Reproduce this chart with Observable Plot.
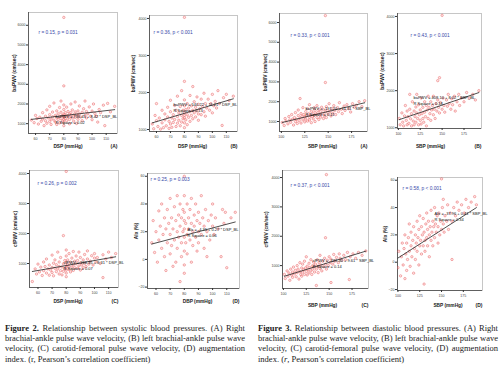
<!DOCTYPE html>
<html><head><meta charset="utf-8">
<script src="https://cdn.jsdelivr.net/npm/d3@7"></script>
<script src="https://cdn.jsdelivr.net/npm/@observablehq/plot@0.6"></script>
<style>
html,body{margin:0;padding:0;background:#fff;}
#root{position:relative;width:500px;height:383px;overflow:hidden;font-family:"Liberation Sans",Arial,sans-serif;}
.panel{position:absolute;}
.cap{position:absolute;font-family:"Liberation Serif","Times New Roman",serif;font-size:8.5px;line-height:10.2px;color:#222;}
.cap div{text-align:justify;text-align-last:justify;white-space:nowrap;}
.cap div.last{text-align-last:left;}
</style></head><body><div id="root"></div><script>
// ---------- data: Figure 2 (DBP on x) ----------
const f2a = [[57,1180],[59,1050],[60,1420],[61,1260],[62,980],[63,1330],[64,1120],[65,1560],[65,1240],[66,900],[67,1380],[67,1150],[68,1700],[68,1020],[69,1290],[70,1460],[70,1110],[70,1880],[71,1230],[71,960],[72,1350],[72,1590],[73,1180],[73,2050],[74,1420],[74,1080],[75,1300],[75,1650],[75,960],[76,1500],[76,1210],[77,1360],[77,1820],[77,1040],[78,1260],[78,1580],[78,2150],[79,1140],[79,1420],[80,6400],[80,2920],[80,1320],[80,1480],[80,1200],[80,1720],[80,1060],[80,1950],[80,1380],[80,900],[81,1560],[81,1270],[82,1420],[82,1150],[82,1840],[83,1330],[83,1620],[84,1210],[84,1480],[84,990],[85,1380],[85,2000],[85,1560],[86,1290],[86,1700],[87,1130],[87,1450],[88,1600],[88,1320],[88,2100],[89,1480],[89,1010],[90,1380],[90,1650],[90,1220],[91,1900],[91,1500],[92,1340],[93,1580],[93,1150],[94,1760],[95,1420],[95,2150],[96,1290],[96,1620],[97,1500],[98,1850],[99,1380],[100,1640],[100,1200],[101,2000],[102,1520],[103,1380],[104,1080],[105,1720],[106,1560],[108,1940],[109,900],[111,2030],[113,1600],[116,1880]];
const f2b = [[57,1150],[58,1020],[59,1380],[60,1240],[60,1700],[61,1080],[62,1310],[63,1010],[64,1520],[64,1180],[65,1050],[66,1420],[66,1260],[67,1100],[68,1600],[68,1340],[69,1030],[69,1220],[70,1480],[70,1150],[70,1790],[71,1310],[71,1060],[72,1400],[72,1190],[73,1650],[73,1270],[74,1080],[74,1520],[75,1350],[75,1170],[75,1900],[76,1250],[76,1450],[77,1100],[77,1620],[78,1380],[78,1200],[78,2050],[79,1520],[79,1290],[80,4030],[80,2300],[80,1450],[80,1320],[80,1180],[80,1640],[80,1050],[80,1800],[80,1380],[81,1540],[81,1260],[82,1700],[82,1400],[82,1130],[83,1580],[83,1330],[84,1480],[84,1920],[84,1220],[85,1640],[85,1380],[86,2160],[86,1520],[86,1290],[87,1450],[87,1750],[88,1600],[88,1340],[89,1500],[89,1880],[90,1420],[90,1680],[90,1250],[91,1560],[92,1820],[92,1400],[93,1620],[94,1480],[94,1980],[95,1700],[95,1360],[96,1580],[97,1820],[98,1520],[99,1700],[100,1950],[100,1450],[101,1640],[102,1760],[103,1580],[104,2050],[105,1700],[107,1110],[108,1860],[110,1950],[112,1780],[115,1900]];
const f2c = [[56,400],[58,820],[59,650],[60,980],[61,720],[62,880],[63,600],[64,1050],[64,760],[65,900],[66,680],[66,1150],[67,820],[68,950],[68,610],[69,780],[70,1280],[70,870],[70,700],[71,1010],[71,590],[72,840],[72,1120],[73,730],[73,960],[74,1380],[74,820],[75,650],[75,1050],[75,900],[76,760],[76,1200],[77,880],[77,620],[78,1930],[78,990],[78,740],[79,1100],[79,830],[80,4070],[80,1450],[80,920],[80,780],[80,1040],[80,680],[80,1250],[80,860],[80,560],[81,970],[81,1120],[82,800],[82,1330],[82,910],[83,1050],[83,720],[84,880],[84,1180],[85,960],[85,1400],[85,770],[86,1080],[86,860],[87,990],[87,1250],[88,840],[88,1100],[89,920],[89,1380],[90,1020],[90,780],[90,1200],[91,950],[92,1120],[92,860],[93,1300],[93,1000],[94,900],[95,1150],[95,1420],[96,980],[97,1080],[98,1260],[99,950],[100,1180],[100,1330],[101,1050],[102,1200],[104,1000],[106,530],[106,1290],[108,1150],[110,1380],[112,1200],[115,1330]];
const f2d = [[57,12],[58,28],[59,5],[60,20],[61,-2],[62,35],[62,14],[63,24],[64,8],[64,40],[65,18],[66,30],[66,2],[67,22],[67,-8],[68,36],[68,12],[69,26],[70,4],[70,44],[70,18],[71,30],[71,10],[72,-5],[72,22],[73,38],[73,14],[74,28],[74,-2],[75,20],[75,46],[75,8],[76,32],[76,16],[77,-16],[77,24],[77,40],[78,12],[78,30],[78,2],[79,20],[79,36],[80,60],[80,46],[80,28],[80,16],[80,-10],[80,6],[80,22],[80,34],[80,-4],[81,26],[81,12],[82,40],[82,18],[82,4],[83,30],[83,22],[84,14],[84,36],[85,26],[85,-2],[85,44],[86,20],[86,10],[87,32],[87,24],[88,16],[88,40],[89,28],[89,6],[90,20],[90,34],[90,12],[91,26],[92,46],[92,18],[93,30],[94,8],[94,24],[95,36],[96,20],[96,2],[97,28],[98,14],[99,32],[100,24],[100,40],[101,18],[102,30],[104,22],[106,2],[107,36],[108,26],[109,34],[110,-6],[113,30],[116,34]];
// ---------- data: Figure 3 (SBP on x) ----------
const f3a = [[101,950],[103,800],[104,1150],[105,1020],[107,880],[108,1250],[109,1080],[110,960],[111,1350],[112,1120],[113,820],[114,1200],[115,1000],[115,1450],[116,1110],[117,900],[118,1300],[118,1580],[119,1040],[120,2160],[120,1180],[121,920],[121,1400],[122,1260],[123,1080],[123,1700],[124,1350],[125,980],[125,1220],[126,1500],[126,1130],[127,1300],[128,1020],[128,1650],[129,1400],[130,1200],[130,1850],[130,1080],[131,1320],[132,1520],[132,940],[133,1250],[134,1420],[134,1130],[135,1700],[135,1300],[136,1000],[136,1550],[137,1380],[138,1200],[138,1800],[139,1450],[140,1100],[140,1600],[141,1320],[142,1500],[142,1220],[143,1720],[144,1400],[145,1150],[145,1600],[146,1300],[147,6350],[147,2970],[147,1480],[148,1750],[148,1200],[149,1560],[150,1380],[151,1900],[152,1500],[153,1280],[154,1650],[155,1420],[156,1800],[157,1560],[158,1350],[160,1700],[161,1500],[162,1950],[164,1620],[165,1400],[167,1780],[168,1560],[170,1850],[172,1650],[174,1480],[176,1900],[178,1720],[180,1820],[183,2000],[186,1750],[189,2050]];
const f3b = [[101,1250],[102,1080],[104,1400],[105,1150],[106,1050],[107,1320],[108,1600],[109,1200],[110,1080],[110,1450],[111,1300],[112,1120],[113,1900],[113,1500],[114,1240],[115,1050],[115,1380],[116,1700],[117,1180],[118,1450],[118,1080],[119,1300],[120,1560],[120,1150],[121,1900],[121,1400],[122,1250],[123,1080],[123,1620],[124,1350],[125,1200],[125,1480],[126,1800],[126,1100],[127,1380],[128,1550],[128,1250],[129,1150],[130,1700],[130,1420],[131,1300],[132,1600],[132,1050],[133,1480],[134,1250],[134,1850],[135,1550],[136,1380],[137,1200],[137,1700],[138,1480],[139,1600],[140,1350],[140,1850],[141,1500],[142,1250],[143,1650],[144,1450],[145,2270],[145,1750],[146,1550],[147,2350],[147,1400],[148,1680],[150,4030],[150,1500],[151,1800],[152,1600],[153,1420],[155,1750],[156,1580],[157,1900],[158,1650],[160,1500],[161,1780],[162,1620],[164,1850],[165,1450],[167,1700],[169,1900],[170,1600],[172,1800],[175,1700],[178,1950],[181,1800],[185,1900],[188,1750],[192,2000]];
const f3c = [[101,700],[102,560],[104,820],[105,640],[106,750],[107,500],[108,880],[109,680],[110,780],[110,600],[111,950],[112,720],[113,840],[114,620],[115,1000],[115,760],[116,880],[117,540],[118,800],[118,1100],[119,700],[120,920],[120,640],[121,1050],[121,780],[122,860],[123,700],[123,1150],[124,920],[125,800],[125,1300],[126,680],[126,980],[127,860],[128,1080],[128,750],[129,940],[130,820],[130,1200],[131,700],[132,1000],[132,880],[133,1120],[134,780],[134,960],[135,1050],[136,322],[136,880],[137,1200],[138,980],[138,760],[139,1100],[140,900],[140,1350],[141,1020],[142,820],[143,1150],[144,960],[145,1250],[146,1950],[146,1050],[147,4100],[147,880],[148,1180],[149,1000],[150,1300],[151,1100],[152,424],[152,1220],[154,1050],[155,1380],[156,1150],[158,1280],[160,1100],[161,1400],[162,1250],[164,1180],[166,1350],[168,1200],[170,1450],[172,525],[173,1300],[176,1400],[179,1250],[182,1450],[186,1350],[190,1500]];
const f3d = [[100,-4],[101,8],[103,-10],[104,4],[105,14],[106,-2],[107,10],[108,-12],[108,20],[109,6],[110,-6],[110,14],[111,2],[112,18],[113,8],[113,28],[114,-3],[115,12],[115,22],[116,4],[117,16],[118,-8],[118,26],[119,10],[120,20],[120,2],[121,14],[122,30],[122,8],[123,18],[124,-2],[124,24],[125,12],[125,34],[126,16],[127,6],[127,26],[128,20],[129,12],[129,32],[130,-16],[130,22],[131,16],[131,8],[132,28],[133,18],[133,36],[134,24],[134,12],[135,30],[136,20],[136,4],[137,26],[138,16],[138,38],[139,22],[140,30],[140,12],[141,26],[142,18],[142,40],[143,28],[144,22],[145,34],[146,14],[146,26],[147,36],[148,20],[149,30],[150,61],[150,24],[151,40],[152,46],[152,28],[153,22],[154,34],[156,30],[157,42],[158,24],[160,36],[162,2],[162,30],[164,40],[166,34],[168,44],[170,38],[173,42],[176,36],[178,46],[181,40],[184,44],[188,48],[190,42]];

// ---------- labels, ticks, statistics ----------
const rLabels = ["r = 0.15, p = 0.031","r = 0.36, p < 0.001","r = 0.26, p = 0.002","r = 0.25, p = 0.003",
                 "r = 0.33, p < 0.001","r = 0.43, p < 0.001","r = 0.37, p < 0.001","r = 0.58, p < 0.001"];
const intercepts = [736.41, 540.22, 268.35, -4.31, -191.20, 408.10, -333.40, -37.96];
const slopes = [8.42, 11.21, 8.31, 0.27, 11.31, 8.02, 9.61, 0.41];
const rSquares = [0.02, 0.13, 0.07, 0.06, 0.11, 0.18, 0.14, 0.34];
const yNames = ["baPWV","baPWV","cfPWV","AIx"];
const yTitles = ["baPWV (cm/sec)","baPWV (cm/sec)","cfPWV (cm/sec)","AIx (%)"];
const xTitles = ["DSP (mmHg)","DSP (mmHg)","DSP (mmHg)","DBP (mmHg)","SBP (mmHg)","SBP (mmHg)","SBP (mmHg)","SBP (mmHg)"];
const panelLetters = ["(A)","(B)","(C)","(D)"];
const xTicksDBP = [60,70,80,90,100,110];
const xTicksSBP = [100,125,150,175];
const yTicksA = [1000,2000,3000,4000,5000,6000];
const yTicksBC = [1000,2000,3000,4000];
const yTicksAIx = [-20,0,20,40,60];
const cap2 = ["Relationship between systolic blood pressures. (A) Right",
  "brachial-ankle pulse wave velocity, (B) left brachial-ankle pulse wave",
  "velocity, (C) carotid-femoral pulse wave velocity, (D) augmentation",
  "index. (r, Pearson’s correlation coefficient)"];
const cap3 = ["Relationship between diastolic blood pressures. (A) Right",
  "brachial-ankle pulse wave velocity, (B) left brachial-ankle pulse wave",
  "velocity, (C) carotid-femoral pulse wave velocity, (D) augmentation",
  "index. (<i>r</i>, Pearson’s correlation coefficient)"];

// ---------- layout (frame boxes, scale domains, text offsets) ----------
const layout = [
 {L:28,T:12,R:117,B:133, xd:[55,118], yd:[500,6650], rdx:10, rdy:20, edx:27, edy:20, ytdx:-14, xtdx:-5, xtdy:13},
 {L:149,T:15,R:237,B:131, xd:[55,118], yd:[946,4080], rdx:4, rdy:17, edx:24, edy:30, ytdx:-16, xtdx:-1, xtdy:15},
 {L:29,T:170,R:118,B:287, xd:[54,117], yd:[200,4100], rdx:8, rdy:13, edx:34, edy:28, ytdx:-14, xtdx:-6, xtdy:14},
 {L:147,T:173,R:239,B:288, xd:[54,119], yd:[-21,62], rdx:3, rdy:6, edx:40, edy:62, ytdx:-11, xtdx:4, xtdy:13},
 {L:279,T:13,R:367,B:131, xd:[98,192], yd:[495,6455], rdx:11, rdy:22, edx:26, edy:26, ytdx:-14, xtdx:-1, xtdy:15},
 {L:397,T:13,R:481,B:128, xd:[99,195], yd:[980,4080], rdx:13, rdy:22, edx:16, edy:34, ytdx:-15, xtdx:-9, xtdy:18},
 {L:282,T:170,R:368,B:288, xd:[99,193], yd:[220,4240], rdx:8, rdy:15, edx:30, edy:31, ytdx:-16, xtdx:-3, xtdy:17},
 {L:397,T:177,R:482,B:290, xd:[99.5,197], yd:[-20.7,62], rdx:5, rdy:11, edx:37, edy:80, ytdx:-12, xtdx:8, xtdy:15}
];

const allPoints = [f2a,f2b,f2c,f2d,f3a,f3b,f3c,f3d];
const yTickSets = [yTicksA, yTicksBC, yTicksBC, yTicksAIx];
const root = document.getElementById("root");
const FONT = "Liberation Sans, Arial, sans-serif";

layout.forEach((g, i) => {
  const ml = 26, mr = 6, mt = 6, mb = 20;
  const k = i % 4;
  const pts = allPoints[i];
  const a = intercepts[i], b = slopes[i];
  const xe = d3.extent(pts, d => d[0]);
  const fit = xe.map(x => ({x, y: a + b * x}));
  const xVar = i < 4 ? "DSP" : "SBP";
  const eq = `${yNames[k]} = ${a.toFixed(2)} + ${b.toFixed(2)} * ${xVar}_BL\nR Square = ${rSquares[i].toFixed(2)}`;
  const chart = Plot.plot({
    width: g.R - g.L + ml + mr,
    height: g.B - g.T + mt + mb,
    marginLeft: ml, marginRight: mr, marginTop: mt, marginBottom: mb,
    style: {background: "transparent", fontFamily: FONT, fontSize: "4px", color: "#333", overflow: "visible"},
    x: {domain: g.xd},
    y: {domain: g.yd},
    marks: [
      Plot.frame({stroke: "#b8b8b8", strokeWidth: 0.8}),
      Plot.ruleX([g.xd[0]], {stroke: "#333", strokeWidth: 0.7}),
      Plot.ruleY([g.yd[0]], {stroke: "#333", strokeWidth: 0.7}),
      Plot.axisX(i < 4 ? xTicksDBP : xTicksSBP, {tickSize: 2, tickPadding: 1.5, fontSize: 3.6, label: null, tickFormat: "d", fill: "#444"}),
      Plot.axisY(yTickSets[k], {tickSize: 2, tickPadding: 1, fontSize: 3.6, label: null, tickFormat: "d", fill: "#444"}),
      Plot.dot(pts, {x: d => d[0], y: d => d[1], r: 1.2, stroke: "#e8474a", strokeWidth: 0.6, strokeOpacity: 0.7, fill: "#f4b0b0", fillOpacity: 0.3, clip: true}),
      Plot.line(fit, {x: "x", y: "y", stroke: "#222", strokeWidth: 0.8, clip: true}),
      Plot.text([eq], {text: d => d, frameAnchor: "bottom-left", dx: g.edx, dy: -g.edy, textAnchor: "start", lineAnchor: "top", fontSize: 4, lineHeight: 1.5, fill: "#111"}),
      Plot.text([rLabels[i]], {text: d => d, frameAnchor: "top-left", dx: g.rdx, dy: g.rdy, textAnchor: "start", lineAnchor: "middle", fontSize: 4.8, fill: "#3848a8"}),
      Plot.text([yTitles[k]], {text: d => d, frameAnchor: "left", dx: g.ytdx, rotate: -90, textAnchor: "middle", lineAnchor: "middle", fontSize: 4.8, fontWeight: "bold", fill: "#222"}),
      Plot.text([xTitles[i]], {text: d => d, frameAnchor: "bottom", dx: g.xtdx, dy: g.xtdy, textAnchor: "middle", lineAnchor: "middle", fontSize: 4.8, fontWeight: "bold", fill: "#222"}),
      Plot.text([panelLetters[k]], {text: d => d, frameAnchor: "bottom-right", dy: g.xtdy, textAnchor: "end", lineAnchor: "middle", fontSize: 5, fontWeight: "bold", fill: "#222"})
    ]
  });
  const wrap = document.createElement("div");
  wrap.className = "panel";
  wrap.style.left = (g.L - ml) + "px";
  wrap.style.top = (g.T - mt) + "px";
  wrap.append(chart);
  root.append(wrap);
});

function caption(num, lines, left, top, width) {
  const box = document.createElement("div");
  box.className = "cap";
  box.style.left = left + "px"; box.style.top = top + "px"; box.style.width = width + "px";
  box.innerHTML = lines.map((t, j) => `<div${j === lines.length - 1 ? ' class="last"' : ''}>${j === 0 ? `<b>Figure ${num}.</b> ` : ''}${t}</div>`).join("");
  root.append(box);
}
caption(2, cap2, 5, 323, 240);
caption(3, cap3, 258, 323, 240);
</script></body></html>
